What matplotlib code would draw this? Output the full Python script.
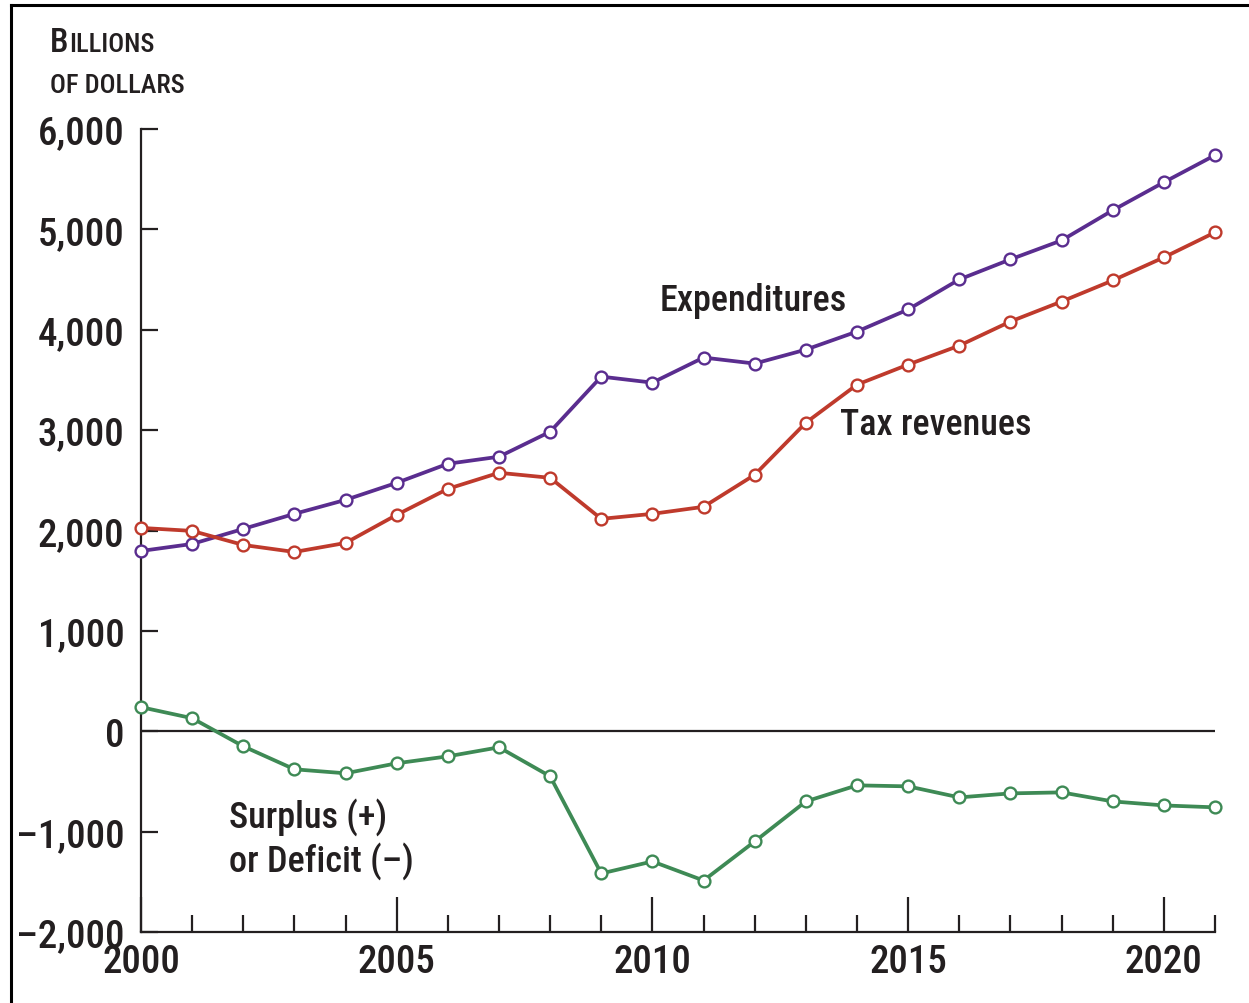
import matplotlib
matplotlib.use("Agg")
import matplotlib.pyplot as plt
from matplotlib.ticker import FixedLocator, FuncFormatter
from matplotlib import font_manager

years = list(range(2000, 2022))

expenditures = [1796, 1866, 2016, 2166, 2305, 2475, 2665, 2735, 2984, 3533, 3473,
                3723, 3663, 3802, 3982, 4202, 4501, 4701, 4890, 5190, 5469, 5739]
tax_revenues = [2026, 1996, 1856, 1786, 1876, 2156, 2415, 2575, 2525, 2116, 2166,
                2236, 2555, 3074, 3453, 3653, 3842, 4082, 4281, 4491, 4721, 4970]
surplus_deficit = [240, 130, -150, -379, -419, -319, -250, -160, -449, -1417, -1297,
                   -1487, -1098, -699, -539, -549, -659, -619, -609, -699, -739, -758]

y_ticks = [-2000, -1000, 0, 1000, 2000, 3000, 4000, 5000, 6000]
x_major = [2000, 2005, 2010, 2015, 2020]

names = {f.name for f in font_manager.fontManager.ttflist}
family = [f for f in ["Liberation Sans Narrow", "Roboto Condensed", "Liberation Sans", "DejaVu Sans"] if f in names]
plt.rcParams["font.family"] = family
plt.rcParams["font.weight"] = "medium"

TEXT = "#231f20"
PURPLE = "#5a2d8f"
RED = "#bf3a2c"
GREEN = "#3e8a55"

fig = plt.figure(figsize=(12.49, 10.04), dpi=100)
ax = fig.add_axes([141 / 1249, 1 - 933 / 1004, (1215 - 141) / 1249, (933 - 130) / 1004])

# outer frame (left and top edges)
fig.add_artist(plt.Line2D([11 / 1249, 11 / 1249], [0, 1 - 6 / 1004], transform=fig.transFigure,
                          color="black", lw=2.2))
fig.add_artist(plt.Line2D([11 / 1249, 1], [1 - 6 / 1004, 1 - 6 / 1004], transform=fig.transFigure,
                          color="black", lw=2.2))

ax.axhline(0, color=TEXT, lw=1.6, zorder=1)

style = dict(lw=2.7, marker="o", markersize=8.5, markerfacecolor="white", markeredgewidth=1.7,
             zorder=3, clip_on=False)
ax.plot(years, expenditures, color=PURPLE, markeredgecolor=PURPLE, **style)
ax.plot(years, tax_revenues, color=RED, markeredgecolor=RED, **style)
ax.plot(years, surplus_deficit, color=GREEN, markeredgecolor=GREEN, **style)

ax.set_xlim(2000, 2021)
ax.set_ylim(-2000, 6000)

for s in ["top", "right"]:
    ax.spines[s].set_visible(False)
for s in ["left", "bottom"]:
    ax.spines[s].set_color(TEXT)
    ax.spines[s].set_linewidth(1.6)

ax.yaxis.set_major_locator(FixedLocator(y_ticks))
ax.yaxis.set_major_formatter(FuncFormatter(lambda v, p: f"{int(v):,}".replace("-", "\u2013")))
ax.tick_params(axis="y", direction="in", length=12, width=1.6, color=TEXT, pad=12,
               labelsize=28, labelcolor=TEXT)

ax.xaxis.set_major_locator(FixedLocator(x_major))
ax.xaxis.set_minor_locator(FixedLocator([y for y in years if y not in x_major]))
ax.tick_params(axis="x", which="major", direction="in", length=25, width=1.6, color=TEXT,
               pad=8, labelsize=28, labelcolor=TEXT)
ax.tick_params(axis="x", which="minor", direction="in", length=12, width=1.6, color=TEXT)

# y-axis title in small caps: a large initial followed by the rest of the word
renderer = fig.canvas.get_renderer()
initial = fig.text(50 / 1249, 1 - 52 / 1004, "B", fontsize=24, color=TEXT, ha="left", va="baseline")
bb = initial.get_window_extent(renderer=renderer)
fig.text((bb.x1 + 1) / fig.bbox.width, 1 - 52 / 1004, "ILLIONS", fontsize=19, color=TEXT,
         ha="left", va="baseline")
fig.text(50 / 1249, 1 - 93 / 1004, "OF DOLLARS", fontsize=19, color=TEXT, ha="left", va="baseline")

lbl = dict(fontsize=26, color=TEXT, ha="left", va="center")
ax.text(2010.15, 4300, "Expenditures", **lbl)
ax.text(2013.67, 3060, "Tax revenues", **lbl)
ax.text(2001.72, -840, "Surplus (+)", **lbl)
ax.text(2001.72, -1280, "or Deficit (\u2013)", **lbl)

fig.savefig("out.png", dpi=100, facecolor="white")
